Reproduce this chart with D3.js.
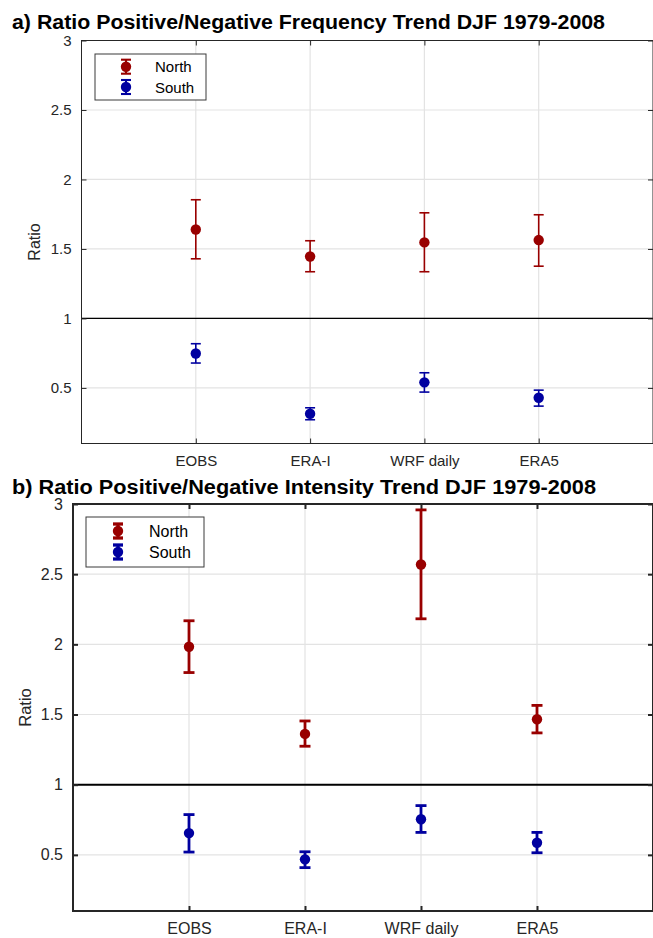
<!DOCTYPE html>
<html><head><meta charset="utf-8">
<script src="https://cdn.jsdelivr.net/npm/d3@7"></script>
<style>body{margin:0;background:#fff}svg{display:block}text{font-family:"Liberation Sans",Arial,sans-serif}</style>
</head><body>
<svg id="c" width="653" height="938"></svg>
<script>
const categories = ["EOBS","ERA-I","WRF daily","ERA5"];
const yTicks = [0.5,1,1.5,2,2.5,3];
const seriesNames = ["North","South"];
const seriesColors = ["#990000","#0000a0"];
// Panel a: frequency
const freqNorth = [1.640,1.446,1.547,1.564];
const freqNorthLo = [1.429,1.336,1.336,1.376];
const freqNorthHi = [1.854,1.559,1.760,1.746];
const freqSouth = [0.748,0.314,0.540,0.429];
const freqSouthLo = [0.679,0.271,0.470,0.369];
const freqSouthHi = [0.818,0.357,0.609,0.484];
// Panel b: intensity
const intNorth = [1.983,1.362,2.569,1.466];
const intNorthLo = [1.799,1.274,2.182,1.369];
const intNorthHi = [2.168,1.454,2.958,1.565];
const intSouth = [0.655,0.468,0.754,0.586];
const intSouthLo = [0.520,0.409,0.660,0.515];
const intSouthHi = [0.787,0.522,0.851,0.660];

const svg = d3.select("#c");

function panel(cfg){
  const g = svg.append("g");
  const x = d3.scaleLinear().domain([0,5]).range([cfg.left,cfg.right]);
  const y = d3.scaleLinear().domain([0.1,3]).range([cfg.bottom,cfg.top]);
  // title
  g.append("text").attr("x",12).attr("y",cfg.titleY).attr("font-weight","bold")
    .attr("font-size",cfg.titleSize).attr("fill","#000")
    .attr("textLength",cfg.titleLen).attr("lengthAdjust","spacingAndGlyphs").text(cfg.title);
  // grid
  g.selectAll(".gy").data(yTicks).enter().append("line")
    .attr("x1",cfg.left).attr("x2",cfg.right).attr("y1",d=>y(d)).attr("y2",d=>y(d))
    .attr("stroke","#e3e3e3").attr("stroke-width",1.2);
  g.selectAll(".gx").data(categories).enter().append("line")
    .attr("x1",(d,i)=>x(i+1)).attr("x2",(d,i)=>x(i+1)).attr("y1",cfg.top).attr("y2",cfg.bottom)
    .attr("stroke","#e3e3e3").attr("stroke-width",1.2);
  // reference line at 1
  g.append("line").attr("x1",cfg.left).attr("x2",cfg.right).attr("y1",y(1)).attr("y2",y(1))
    .attr("stroke","#000").attr("stroke-width",cfg.refW);
  // axes
  const yAx = d3.axisLeft(y).tickValues(yTicks).tickSize(-5).tickPadding(10).tickFormat(d3.format("~g"));
  const yAxR = d3.axisRight(y).tickValues(yTicks).tickSize(-5).tickFormat("");
  const xAx = d3.axisBottom(x).tickValues([1,2,3,4]).tickSize(-5).tickPadding(12).tickFormat(d=>categories[d-1]);
  const xAxT = d3.axisTop(x).tickValues([1,2,3,4]).tickSize(-5).tickFormat("");
  const axes = [
    [yAx,`translate(${cfg.left},0)`],[yAxR,`translate(${cfg.right},0)`],
    [xAx,`translate(0,${cfg.bottom})`],[xAxT,`translate(0,${cfg.top})`]];
  axes.forEach(([a,t])=>{
    const ag = g.append("g").attr("transform",t).call(a);
    ag.select(".domain").remove();
    ag.selectAll("line").attr("stroke","#262626").attr("stroke-width",cfg.axW);
    ag.selectAll("text").attr("font-size",cfg.tickSize).attr("fill","#262626")
      .attr("font-family","Liberation Sans, Arial, sans-serif");
  });
  g.append("rect").attr("x",cfg.left).attr("y",cfg.top).attr("width",cfg.right-cfg.left)
    .attr("height",cfg.bottom-cfg.top).attr("fill","none").attr("stroke","#262626").attr("stroke-width",cfg.axW);
  // y label
  g.append("text").attr("transform",`translate(${cfg.ylabX},${(cfg.top+cfg.bottom)/2}) rotate(-90)`)
    .attr("text-anchor","middle").attr("font-size",cfg.ylabSize).attr("fill","#262626").text("Ratio");
  // series
  cfg.series.forEach((s,si)=>{
    const col = seriesColors[si];
    s.v.forEach((v,i)=>{
      const cx = x(i+1);
      g.append("line").attr("x1",cx).attr("x2",cx).attr("y1",y(s.lo[i])).attr("y2",y(s.hi[i]))
        .attr("stroke",col).attr("stroke-width",cfg.ebW);
      [s.lo[i],s.hi[i]].forEach(e=>{
        g.append("line").attr("x1",cx-cfg.capW).attr("x2",cx+cfg.capW).attr("y1",y(e)).attr("y2",y(e))
          .attr("stroke",col).attr("stroke-width",cfg.ebW);
      });
      g.append("circle").attr("cx",cx).attr("cy",y(v)).attr("r",cfg.r).attr("fill",col);
    });
  });
  // legend
  const L = cfg.legend;
  g.append("rect").attr("x",L.x).attr("y",L.y).attr("width",L.w).attr("height",L.h)
    .attr("fill","#fff").attr("stroke","#3a3a3a").attr("stroke-width",1);
  seriesNames.forEach((n,si)=>{
    const cy = L.rows[si], col = seriesColors[si];
    g.append("line").attr("x1",L.mx).attr("x2",L.mx).attr("y1",cy-7).attr("y2",cy+7).attr("stroke",col).attr("stroke-width",cfg.ebW+0.5);
    [cy-7,cy+7].forEach(e=>g.append("line").attr("x1",L.mx-5).attr("x2",L.mx+5).attr("y1",e).attr("y2",e).attr("stroke",col).attr("stroke-width",cfg.ebW+0.5));
    g.append("circle").attr("cx",L.mx).attr("cy",cy).attr("r",cfg.r).attr("fill",col);
    g.append("text").attr("x",L.tx).attr("y",cy+5.5).attr("font-size",L.fs).attr("fill","#000").text(n);
  });
}

panel({
  title:"a) Ratio Positive/Negative Frequency Trend DJF 1979-2008", titleY:29, titleSize:20, titleLen:593,
  left:81.5, right:653, top:40.5, bottom:443.5,
  axW:1, refW:1.2, ebW:1.6, capW:5, r:5.2, tickSize:15, ylabX:39.5, ylabSize:16,
  series:[{v:freqNorth,lo:freqNorthLo,hi:freqNorthHi},{v:freqSouth,lo:freqSouthLo,hi:freqSouthHi}],
  legend:{x:95,y:54,w:111,h:46,mx:126,tx:155,rows:[66.7,87],fs:15}
});
panel({
  title:"b) Ratio Positive/Negative Intensity Trend DJF 1979-2008", titleY:494, titleSize:20, titleLen:584,
  left:73, right:653, top:504, bottom:911,
  axW:2, refW:2, ebW:2.8, capW:5.5, r:5.2, tickSize:16, ylabX:30.5, ylabSize:16.5,
  series:[{v:intNorth,lo:intNorthLo,hi:intNorthHi},{v:intSouth,lo:intSouthLo,hi:intSouthHi}],
  legend:{x:86,y:517,w:118,h:50,mx:118,tx:149,rows:[531,552],fs:16}
});
</script>
</body></html>
